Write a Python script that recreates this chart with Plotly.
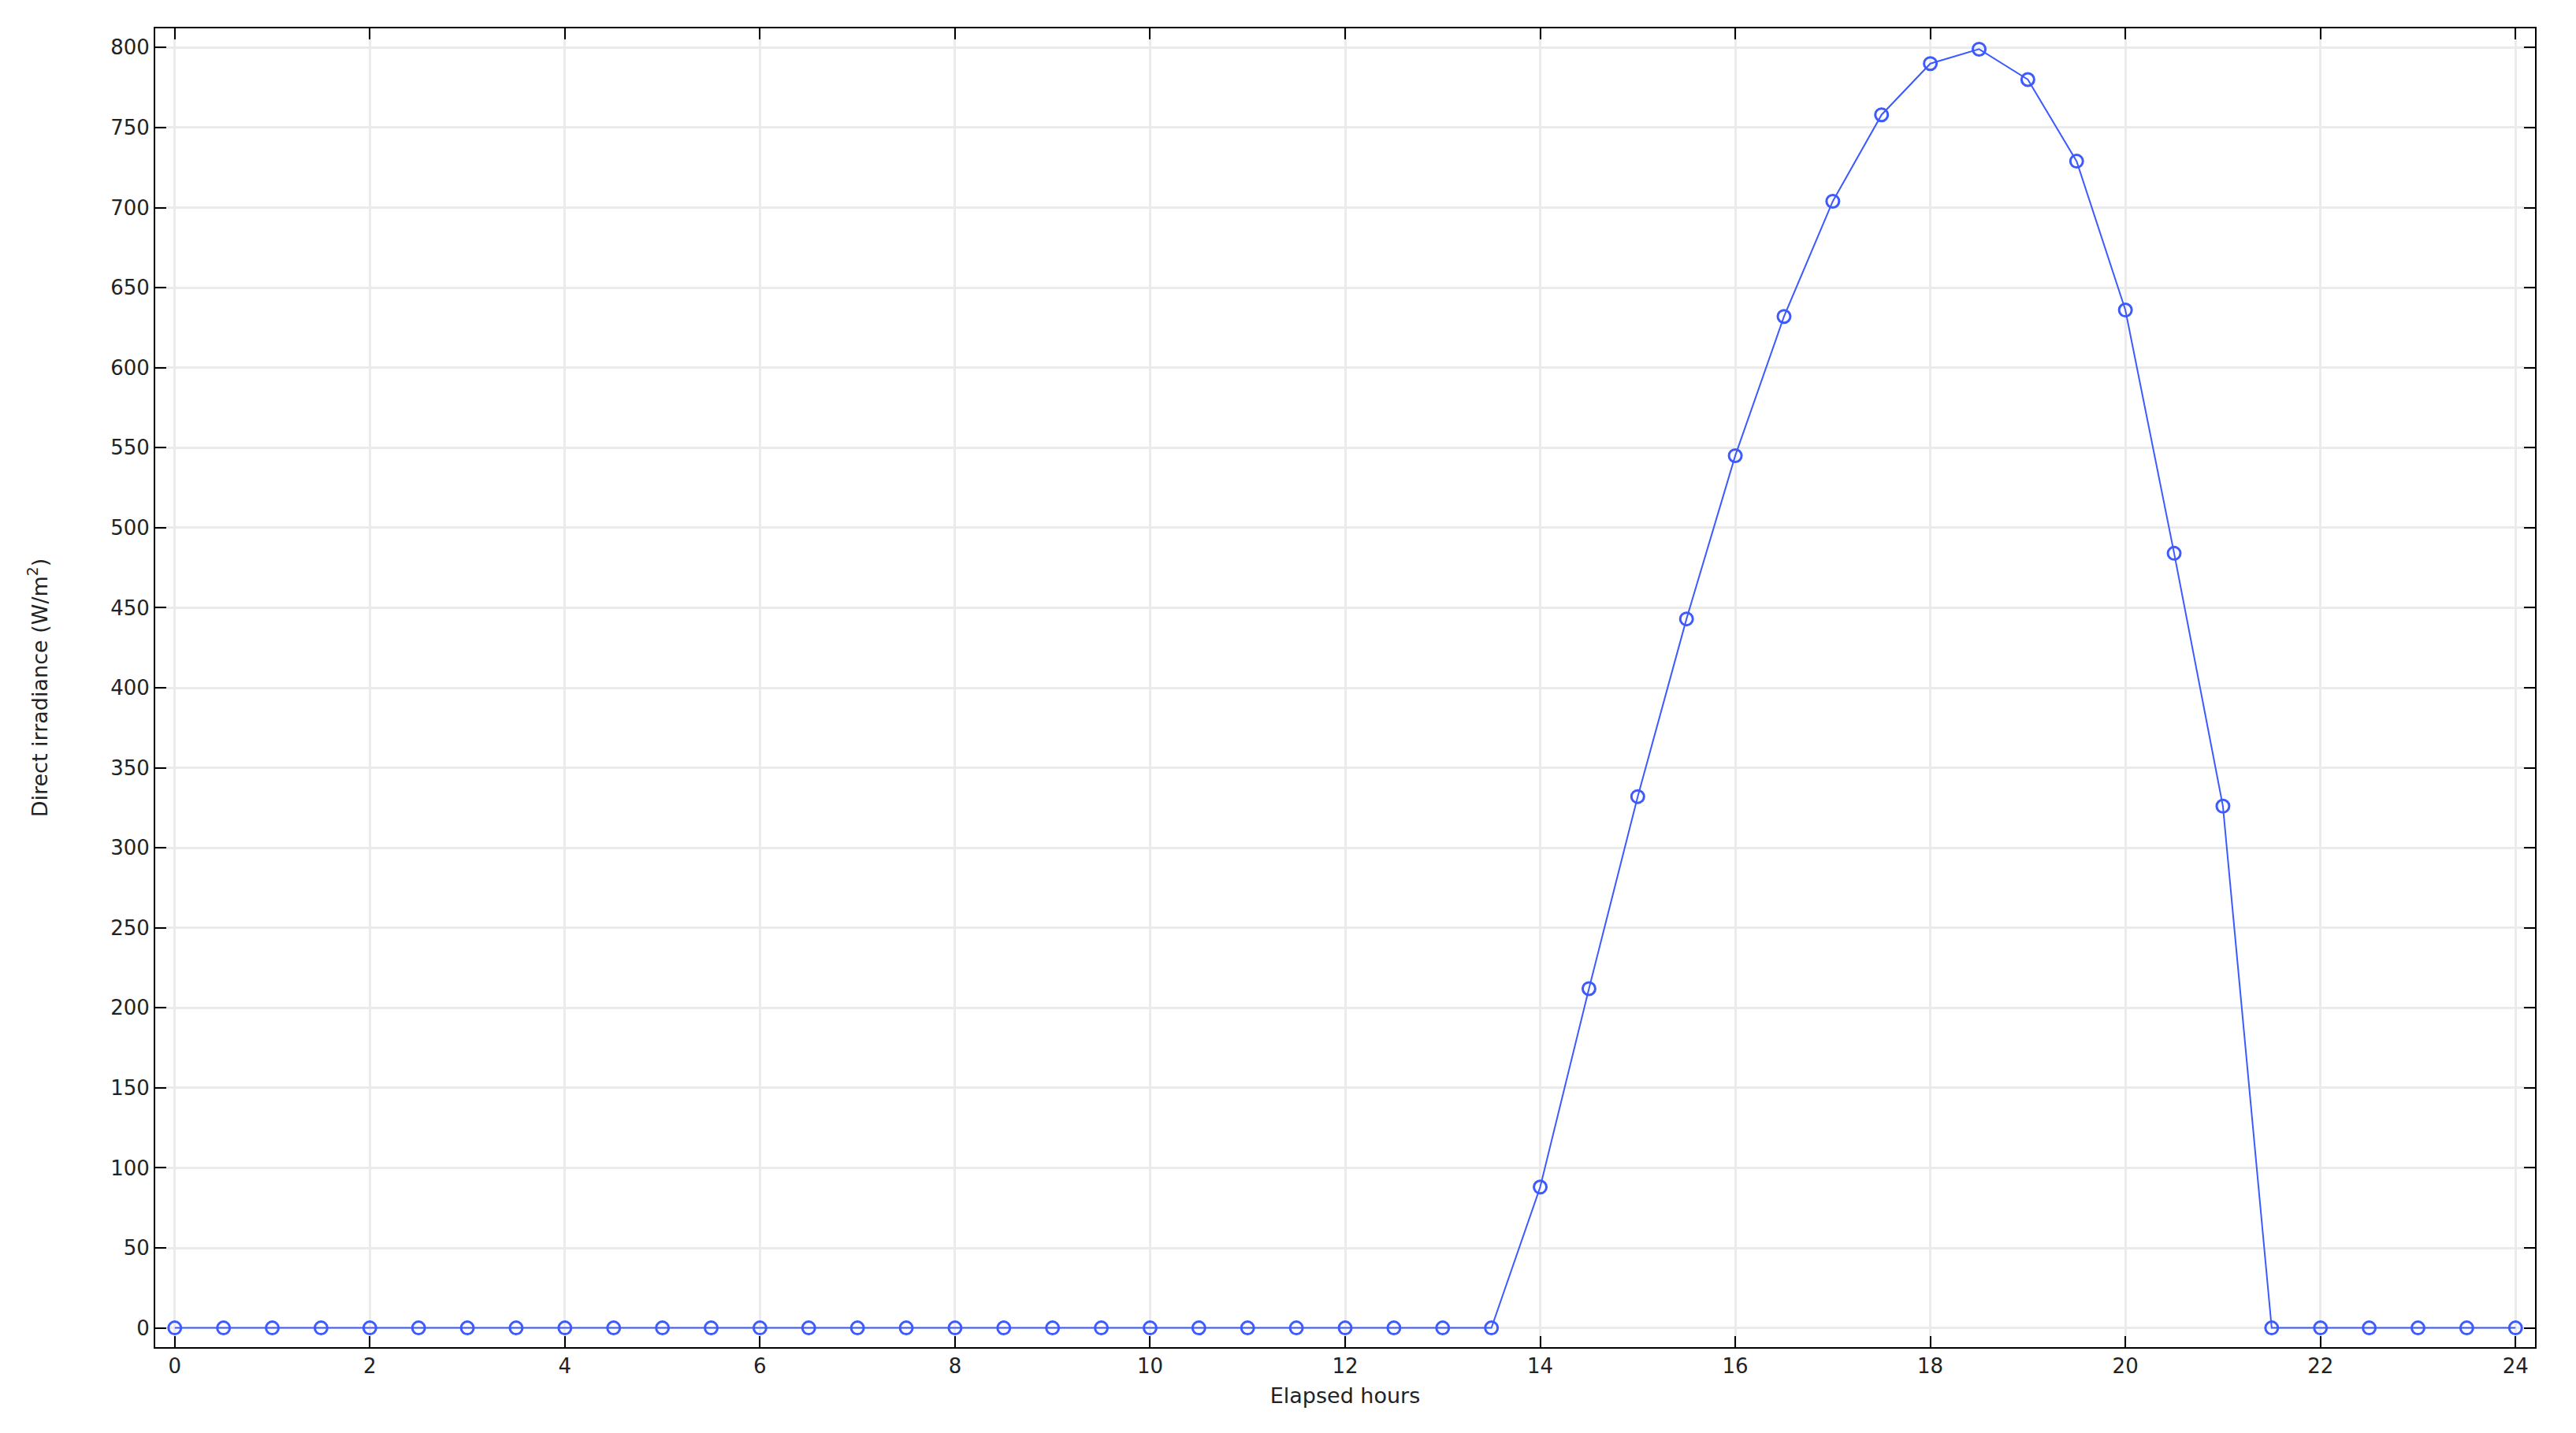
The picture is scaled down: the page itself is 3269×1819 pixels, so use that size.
import plotly.graph_objects as go

hours = [0, 0.5, 1, 1.5, 2, 2.5, 3, 3.5, 4, 4.5, 5, 5.5, 6, 6.5, 7, 7.5,
         8, 8.5, 9, 9.5, 10, 10.5, 11, 11.5, 12, 12.5, 13, 13.5, 14, 14.5,
         15, 15.5, 16, 16.5, 17, 17.5, 18, 18.5, 19, 19.5, 20, 20.5, 21,
         21.5, 22, 22.5, 23, 23.5, 24]

irradiance = [0, 0, 0, 0, 0, 0, 0, 0, 0, 0, 0, 0, 0, 0, 0, 0,
              0, 0, 0, 0, 0, 0, 0, 0, 0, 0, 0, 0, 88, 212,
              332, 443, 545, 632, 704, 758, 790, 799, 780, 729, 636, 484, 326,
              0, 0, 0, 0, 0, 0]

x_title = "Elapsed hours"
y_title = "Direct irradiance (W/m<sup>2</sup>)"

LINE_BLUE = "#3d5afe"

fig = go.Figure(go.Scatter(
    x=hours,
    y=irradiance,
    mode="lines+markers",
    line=dict(color=LINE_BLUE, width=2),
    marker=dict(symbol="circle-open", size=16, color=LINE_BLUE, line=dict(width=3)),
    showlegend=False,
))

axis_style = dict(
    showline=True,
    linecolor="black",
    linewidth=2,
    mirror="ticks",
    ticks="inside",
    ticklen=14,
    tickwidth=2,
    tickcolor="black",
    showgrid=True,
    gridcolor="#ebebeb",
    gridwidth=3,
    zeroline=False,
    tickfont=dict(family="DejaVu Sans", size=26, color="#222222"),
)

fig.update_xaxes(
    range=[-0.2, 24.2],
    dtick=2,
    tick0=0,
    title=dict(text=x_title, font=dict(family="DejaVu Sans", size=27, color="#222222"), standoff=14),
    **axis_style,
)
fig.update_yaxes(
    range=[-12, 812],
    dtick=50,
    tick0=0,
    title=dict(text=y_title, font=dict(family="DejaVu Sans", size=27, color="#222222"), standoff=72),
    **axis_style,
)

# page body adds an 8px offset, so the figure is trimmed by that much
fig.update_layout(
    width=3261,
    height=1811,
    plot_bgcolor="white",
    paper_bgcolor="white",
    margin=dict(l=189, r=52, t=28, b=109),
)

fig.write_html("out.html")
